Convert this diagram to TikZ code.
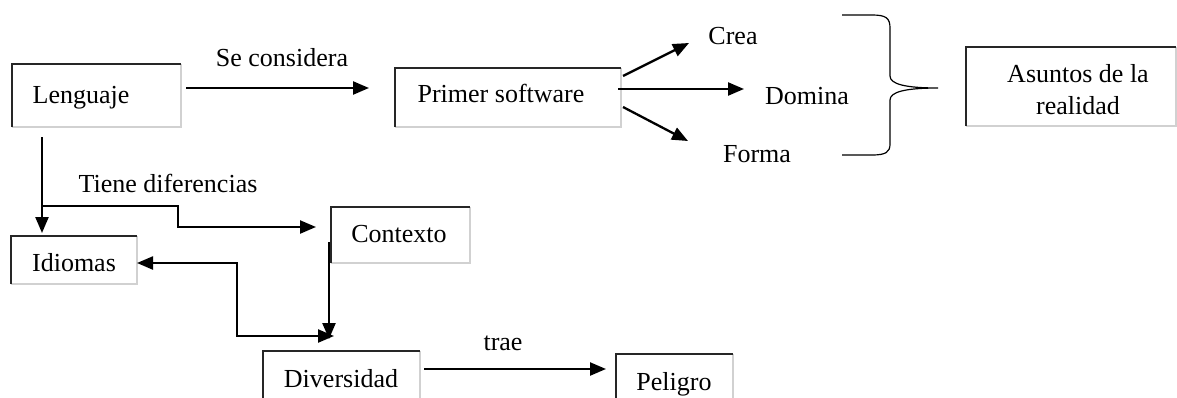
\documentclass[tikz,border=0pt]{standalone}
\usepackage{fontspec}
\setmainfont{Liberation Serif}
\usetikzlibrary{arrows.meta}
\newcommand\myframeit[1]{%
  \draw[boxlight] (#1.north east) -- (#1.south east) -- (#1.south west);
  \draw[boxdark] (#1.south west) -- (#1.north west) -- (#1.north east);}
\begin{document}
\begin{tikzpicture}[x=1pt,y=-1pt,
  bx/.style={rectangle,inner sep=0pt,outer sep=0pt,anchor=north west},
  boxdark/.style={line width=1.4pt,black!85},
  boxlight/.style={line width=1.8pt,black!18},
  txt/.style={inner sep=0pt,anchor=base,font=\fontsize{26}{32}\selectfont},
  arr/.style={line width=2.3pt,-{Triangle[length=16pt,width=13pt]}},
  darr/.style={line width=2.3pt,{Triangle[length=16pt,width=13pt]}-{Triangle[length=16pt,width=13pt]}},
  bracestyle/.style={line width=1.2pt}]
\useasboundingbox (0,0) rectangle (1177,397);

% boxes
\node[bx,minimum width=169pt,minimum height=63pt] (lenB) at (12,64) {};
\node[bx,minimum width=226pt,minimum height=59pt] (priB) at (395,68) {};
\node[bx,minimum width=210pt,minimum height=79pt] (asuB) at (966,47) {};
\node[bx,minimum width=126pt,minimum height=48pt] (idiB) at (11,236) {};
\node[bx,minimum width=139pt,minimum height=56pt] (conB) at (331,207) {};
\node[bx,minimum width=157pt,minimum height=60pt] (divB) at (263,351) {};
\node[bx,minimum width=117pt,minimum height=60pt] (pelB) at (616,354) {};
\myframeit{lenB}\myframeit{priB}\myframeit{asuB}\myframeit{idiB}
\myframeit{conB}\myframeit{divB}\myframeit{pelB}

% texts
\node[txt] (lenT) at (81,103) {Lenguaje};
\node[txt] (priT) at (501,102) {Primer software};
\node[txt,align=center] (asuT) at (1078,114) {Asuntos de la\\realidad};
\node[txt] (idiT) at (74,271) {Idiomas};
\node[txt] (conT) at (399,242) {Contexto};
\node[txt] (divT) at (341,387) {Diversidad};
\node[txt] (pelT) at (674,390) {Peligro};
\node[txt] (creT) at (733,44) {Crea};
\node[txt] (domT) at (807,104) {Domina};
\node[txt] (forT) at (757,162) {Forma};
\node[txt] (seT) at (282,66) {Se considera};
\node[txt] (tieT) at (168,192) {Tiene diferencias};
\node[txt] (traT) at (503,350) {trae};

% connector end points
\coordinate (a1) at (186,88);   \coordinate (a2) at (369,88);
\coordinate (c1) at (623,76);   \coordinate (c2) at (689,43);
\coordinate (d1) at (618,89);   \coordinate (d2) at (744,89);
\coordinate (f1) at (623,107);  \coordinate (f2) at (688,141);
\coordinate (l1) at (42,137);   \coordinate (l2) at (42,233);
\coordinate (b1) at (42,206);   \coordinate (b2) at (316,227);
\coordinate (i1) at (137,263);  \coordinate (i2) at (334,336);
\coordinate (k1) at (329,242);  \coordinate (k2) at (329,339);
\coordinate (t1) at (424,369);  \coordinate (t2) at (606,369);

\draw[arr] (a1) -- (a2);
\draw[arr] (c1) -- (c2);
\draw[arr] (d1) -- (d2);
\draw[arr] (f1) -- (f2);
\draw[arr] (l1) -- (l2);
\draw[arr] (b1) -- (178,206) -- (178,227) -- (b2);
\draw[darr] (i1) -- (237,263) -- (237,336) -- (i2);
\draw[arr] (k1) -- (k2);
\draw[arr] (t1) -- (t2);

% brace
\draw[bracestyle] (842,15) -- (872,15) .. controls (886,15) and (890,18) .. (890,28)
  -- (890,76) .. controls (890,84) and (905,88) .. (938,88)
  .. controls (905,88) and (890,92) .. (890,100)
  -- (890,144) .. controls (890,152) and (886,155) .. (872,155) -- (842,155);
\end{tikzpicture}
\end{document}
